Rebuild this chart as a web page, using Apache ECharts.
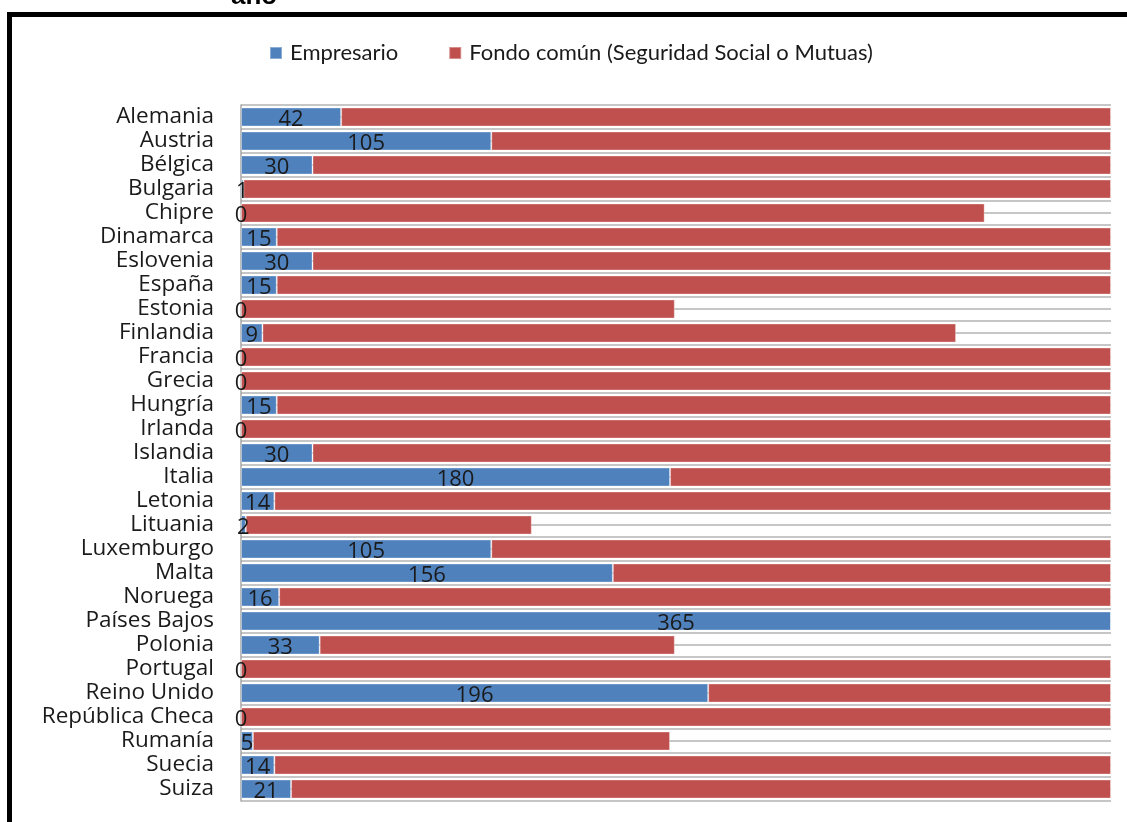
<!DOCTYPE html>
<html>
<head>
<meta charset="utf-8">
<title>Días a cargo del empresario y del fondo común</title>
<script src="https://cdn.jsdelivr.net/npm/echarts@6/dist/echarts.min.js"></script>
<style>
  html, body { margin: 0; padding: 0; background: #ffffff; }
  #chart { width: 1127px; height: 822px; }
</style>
</head>
<body>
<div id="chart"></div>
<script>
// Países, en el orden en que aparecen de arriba abajo
const countries = [
  'Alemania', 'Austria', 'Bélgica', 'Bulgaria', 'Chipre', 'Dinamarca',
  'Eslovenia', 'España', 'Estonia', 'Finlandia', 'Francia', 'Grecia',
  'Hungría', 'Irlanda', 'Islandia', 'Italia', 'Letonia', 'Lituania',
  'Luxemburgo', 'Malta', 'Noruega', 'Países Bajos', 'Polonia', 'Portugal',
  'Reino Unido', 'República Checa', 'Rumanía', 'Suecia', 'Suiza'
];

// Días pagados por el empresario
const employerDays = [
  42, 105, 30, 1, 0, 15,
  30, 15, 0, 9, 0, 0,
  15, 0, 30, 180, 14, 2,
  105, 156, 16, 365, 33, 0,
  196, 0, 5, 14, 21
];

// Días pagados por el fondo común (Seguridad Social o Mutuas)
const fundDays = [
  323, 260, 335, 364, 312, 350,
  335, 350, 182, 291, 365, 365,
  350, 365, 335, 185, 351, 120,
  260, 209, 349, 0, 149, 365,
  169, 365, 175, 351, 344
];

const seriesNames = ['Empresario', 'Fondo común (Seguridad Social o Mutuas)'];
const axisMax = 365;

const FONT = 'Lato, "Open Sans", sans-serif';
const LABEL_FONT = '"Open Sans", Lato, sans-serif';
const chart = echarts.init(document.getElementById('chart'), null, { renderer: 'canvas' });

chart.setOption({
  animation: false,
  backgroundColor: '#ffffff',
  color: ['#4F81BD', '#C0504D'],
  graphic: [
    {
      type: 'text',
      left: 231,
      top: -16,
      style: {
        text: 'año',
        font: 'bold 26px "Liberation Sans", Arial, sans-serif',
        fill: '#000000'
      },
      z: 10
    },
    {
      type: 'rect',
      shape: { x: 9.5, y: 14.5, width: 1200, height: 900 },
      style: { fill: 'none', stroke: '#000000', lineWidth: 5 },
      z: 10
    }
  ],
  legend: {
    data: seriesNames,
    left: 264,
    top: 37,
    icon: 'rect',
    itemWidth: 12,
    itemHeight: 12,
    itemGap: 50,
    textStyle: { fontFamily: FONT, fontSize: 22, color: '#1a1a1a', padding: [0, 0, 0, 3] }
  },
  grid: { left: 241, right: 16, top: 105, bottom: 21, containLabel: false },
  xAxis: {
    type: 'value',
    min: 0,
    max: axisMax,
    show: false
  },
  yAxis: [
    {
      type: 'category',
      data: countries,
      inverse: true,
      axisLine: { show: true, lineStyle: { color: '#a6a6a6', width: 1.5 } },
      axisTick: { show: false },
      splitLine: { show: false },
      axisLabel: {
        interval: 0,
        margin: 27,
        fontFamily: LABEL_FONT,
        fontSize: 22.5,
        lineHeight: 22,
        padding: [4, 0, 0, 0],
        color: '#1a1a1a'
      }
    },
    {
      // Rejilla: líneas en los límites y en el centro de cada banda
      type: 'value',
      min: 0,
      max: countries.length,
      interval: 0.5,
      position: 'right',
      axisLine: { show: false },
      axisTick: { show: false },
      axisLabel: { show: false },
      splitLine: { show: true, lineStyle: { color: '#c6c6c6', width: 2 } }
    }
  ],
  series: [
    {
      name: seriesNames[0],
      type: 'bar',
      stack: 'dias',
      yAxisIndex: 0,
      barWidth: 19,
      data: employerDays,
      itemStyle: { borderColor: 'rgba(255,255,255,0.35)', borderWidth: 1 },
      label: {
        show: true,
        position: 'inside',
        offset: [0, 3],
        fontFamily: LABEL_FONT,
        fontSize: 22,
        lineHeight: 22,
        color: '#1a1a1a'
      }
    },
    {
      name: seriesNames[1],
      type: 'bar',
      stack: 'dias',
      yAxisIndex: 0,
      barWidth: 19,
      data: fundDays,
      itemStyle: { borderColor: 'rgba(255,255,255,0.35)', borderWidth: 1 }
    }
  ]
});
</script>
</body>
</html>
